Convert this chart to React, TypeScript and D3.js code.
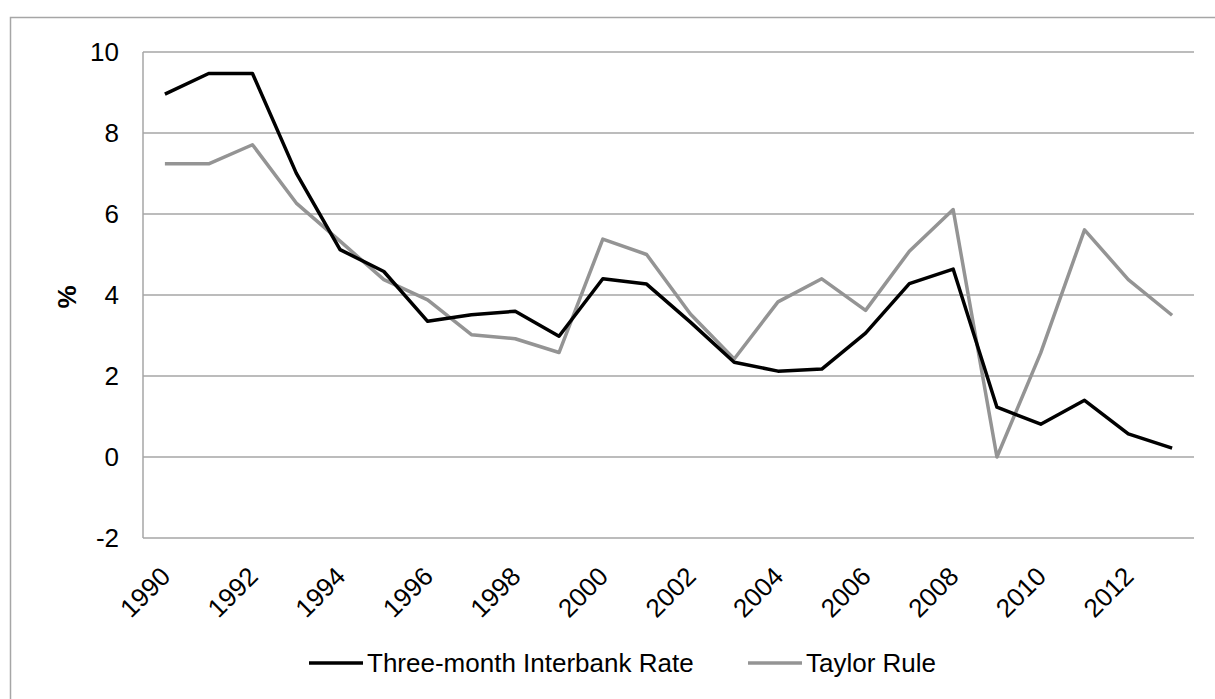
import React from "react";
import * as d3 from "d3";

const years: number[] = d3.range(1990, 2014);
const interbank: number[] = [
  8.96, 9.47, 9.47, 7.01, 5.12, 4.58, 3.35, 3.51, 3.6, 2.98, 4.4, 4.27, 3.33,
  2.34, 2.12, 2.17, 3.06, 4.28, 4.64, 1.23, 0.81, 1.4, 0.57, 0.22,
];
const taylor: number[] = [
  7.24, 7.24, 7.71, 6.27, 5.33, 4.38, 3.88, 3.02, 2.92, 2.58, 5.38, 5.0, 3.53,
  2.42, 3.83, 4.4, 3.62, 5.08, 6.11, 0.0, 2.57, 5.61, 4.38, 3.5,
];
const yTicks: number[] = [-2, 0, 2, 4, 6, 8, 10];
const xTickYears: number[] = years.filter((y) => (y - 1990) % 2 === 0);
const seriesNames: string[] = ["Three-month Interbank Rate", "Taylor Rule"];
const yLabel = "%";

const W = 1215;
const H = 699;
const FONT = "'Liberation Sans', Arial, sans-serif";
const GRID = "#a6a6a6";
const GRAY = "#949494";

export default function App() {
  const x = d3
    .scalePoint<number>()
    .domain(years)
    .range([143, 1194])
    .padding(0.5);
  const y = d3.scaleLinear().domain([-2, 10]).range([538, 52]);

  const line = d3
    .line<number>()
    .x((_, i) => x(years[i]) as number)
    .y((d) => y(d));

  return (
    <svg
      width={W}
      height={H}
      style={{ position: "absolute", left: 0, top: 0, background: "#fff" }}
      fontFamily={FONT}
    >
      <rect x={0} y={0} width={W} height={H} fill="#fff" />
      <rect
        x={10.5}
        y={17.5}
        width={W + 50}
        height={H + 50}
        fill="none"
        stroke={GRID}
        strokeWidth={1.5}
      />
      {yTicks.map((t) => (
        <g key={t}>
          <line
            x1={143}
            x2={1194}
            y1={y(t)}
            y2={y(t)}
            stroke={GRID}
            strokeWidth={1.5}
          />
          <text
            x={119}
            y={y(t) + 9.3}
            textAnchor="end"
            fontSize={26}
            fill="#000"
          >
            {t}
          </text>
        </g>
      ))}
      <line x1={143} x2={143} y1={52} y2={538} stroke={GRID} strokeWidth={1.5} />
      {xTickYears.map((yr) => {
        const px = (x(yr) as number) + 7;
        const py = 578;
        return (
          <text
            key={yr}
            x={px}
            y={py}
            textAnchor="end"
            fontSize={26}
            fill="#000"
            transform={`rotate(-45 ${px} ${py})`}
          >
            {yr}
          </text>
        );
      })}
      <text
        x={76}
        y={297}
        fontSize={26}
        fontWeight="bold"
        textAnchor="middle"
        transform="rotate(-90 76 297)"
      >
        {yLabel}
      </text>
      <path
        d={line(taylor) || ""}
        fill="none"
        stroke={GRAY}
        strokeWidth={3.5}
        strokeLinejoin="round"
      />
      <path
        d={line(interbank) || ""}
        fill="none"
        stroke="#000"
        strokeWidth={3.5}
        strokeLinejoin="round"
      />
      <line x1={309} x2={363} y1={663} y2={663} stroke="#000" strokeWidth={3.5} />
      <text x={367} y={672} fontSize={26} fill="#000">
        {seriesNames[0]}
      </text>
      <line x1={748} x2={802} y1={663} y2={663} stroke={GRAY} strokeWidth={3.5} />
      <text x={806} y={672} fontSize={26} fill="#000">
        {seriesNames[1]}
      </text>
    </svg>
  );
}
